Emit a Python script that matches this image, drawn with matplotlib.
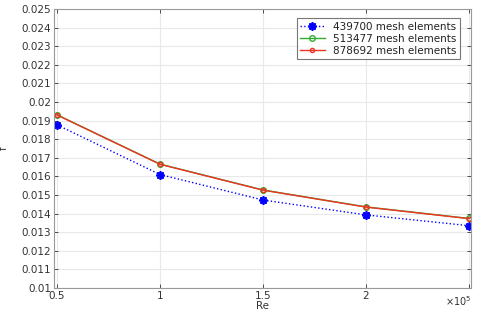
import numpy as np
import matplotlib.pyplot as plt

# Re in units of 1e5
re = [0.5, 1.0, 1.5, 2.0, 2.5]
f_439700 = [0.01877, 0.01610, 0.01473, 0.01393, 0.01335]
f_513477 = [0.01931, 0.01666, 0.01527, 0.01436, 0.01374]
f_878692 = [0.01930, 0.01665, 0.01526, 0.01435, 0.01373]
labels = ['439700 mesh elements', '513477 mesh elements', '878692 mesh elements']
ytick_labels = ['0.01', '0.011', '0.012', '0.013', '0.014', '0.015', '0.016', '0.017',
                '0.018', '0.019', '0.02', '0.021', '0.022', '0.023', '0.024', '0.025']

fig = plt.figure(figsize=(4.8, 3.12), dpi=100)
ax = fig.add_axes([54/480, 1 - 288/312, (471-54)/480, (288-9)/312])

ax.plot(re, f_439700, color='#0000ff', linestyle=':', linewidth=1.0,
        marker=(8, 2, 0), markersize=6, markeredgewidth=1.3, label=labels[0])
ax.plot(re, f_513477, color='#33aa33', linestyle='-', linewidth=1.0,
        marker='o', markersize=4, markerfacecolor='none', markeredgewidth=1.0, label=labels[1])
ax.plot(re, f_878692, color='#ee3322', linestyle='-', linewidth=1.0,
        marker='o', markersize=3, markerfacecolor='none', markeredgewidth=1.0, label=labels[2])

ax.set_xlim(0.485, 2.51)
ax.set_ylim(0.01, 0.025)
ax.set_xticks([0.5, 1, 1.5, 2, 2.5])
ax.set_xticklabels(['0.5', '1', '1.5', '2', ''])
ax.set_yticks(np.linspace(0.010, 0.025, 16))
ax.set_yticklabels(ytick_labels)

ax.grid(True, color='#e8e8e8', linewidth=0.8)
ax.set_axisbelow(True)
ax.tick_params(direction='in', top=True, right=True, labelsize=7.5, colors='#333333',
               length=3, width=0.6, pad=2)
for s in ax.spines.values():
    s.set_color('#999999')
    s.set_linewidth(0.8)

ax.set_xlabel('Re', fontsize=7.5, color='#333333', labelpad=0)
ax.set_ylabel('f', fontsize=7.5, color='#333333', labelpad=9)
ax.text(1.0, -0.022, r'$\times10^5$', transform=ax.transAxes, ha='right', va='top',
        fontsize=7, color='#333333')

leg = ax.legend(loc='upper right', fontsize=7.5, frameon=True, fancybox=False,
                edgecolor='#555555', handlelength=2.4, borderpad=0.3, labelspacing=0.2,
                bbox_to_anchor=(0.985, 0.985))
leg.get_frame().set_linewidth(0.8)
for t in leg.get_texts():
    t.set_color('#222222')

fig.savefig('out.png', dpi=100)
